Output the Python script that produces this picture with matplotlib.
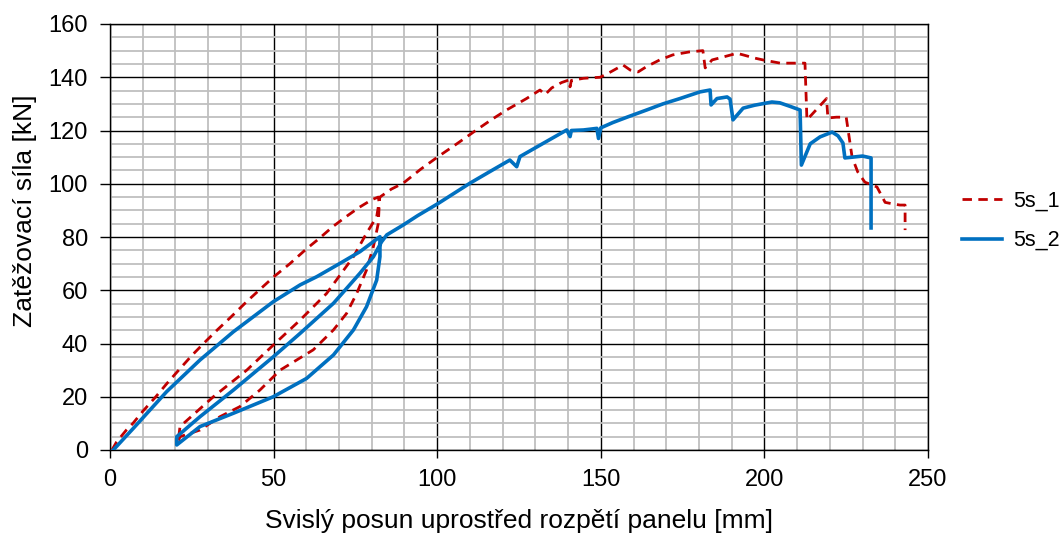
import matplotlib
matplotlib.use("Agg")
import matplotlib.pyplot as plt
from matplotlib.ticker import MultipleLocator

plt.rcParams['font.family'] = ['Liberation Sans', 'DejaVu Sans']

# 5s_1 : loading, unloading, reloading, then envelope to failure
s1_x = [0.6, 2, 5, 7, 10, 14, 17.4, 21, 25, 29, 32.7, 37, 42, 46, 50, 55, 60, 64, 68, 72, 76, 80, 82,
        82.3, 82, 80.5, 78.4, 75.4, 72.3, 68.3, 62.1, 52, 45.8, 39.7, 33.6, 27.5, 21.4, 20.8,
        21.4, 31.6, 41.8, 49.9, 58.1, 66.2, 74.4, 78.4, 81.5, 82.5,
        86, 89.6, 95, 100.3, 106, 112, 116.5, 121.2, 127.3, 131.4, 133, 135, 138, 140.3, 140.6, 141,
        144.7, 149.8, 153, 156.8, 159, 161.4, 164, 168, 172, 177, 181.2, 181.9, 184, 187.4, 191.6,
        193.5, 197, 199.6, 204.8, 212.4, 213, 216, 219, 219.4, 222, 225, 226.8, 228.5, 230.7,
        234.4, 236.9, 239, 241.4, 243, 243]
s1_y = [0, 3, 7.5, 10, 14.5, 20, 25, 30, 35.5, 40.5, 45, 50, 56, 60.5, 65, 70, 75.5, 79.5, 83.8, 87.5, 91, 94, 95,
        92.6, 85.1, 76.4, 67.6, 58.8, 51.3, 45.1, 37.6, 30, 22.5, 16.3, 12.5, 7.5, 5, 3,
        8.8, 20, 30, 39.4, 48.8, 58.8, 72.6, 81.4, 87.6, 95,
        98, 100.2, 105.5, 110.2, 115, 120.2, 124, 127.7, 132, 135.2, 133.5, 136, 138, 139, 136.4, 138.8,
        139.6, 140, 142, 144.6, 142.7, 142, 144, 146.5, 148.4, 149.5, 150, 143.5, 146.5, 147.6, 149,
        148.4, 147.2, 146.5, 145.3, 145.3, 124, 128, 132, 124.7, 125, 125, 110, 104.5, 100.6,
        98.8, 93, 92.5, 92, 92, 82.6]

# 5s_2
s2_x = [1, 7.1, 17.3, 27.5, 37.7, 49.9, 58.1, 63.2, 70.3, 76.4, 82.5,
        82.5, 81.5, 78.4, 74.4, 68.3, 60.1, 49.9, 37.7, 27.5, 20.4,
        20.4, 27.5, 37.7, 49.9, 58.1, 68.3, 76.4, 80.5, 83, 84.6,
        89.6, 94, 100.3, 110, 116, 122.2, 124.3, 125.3, 130, 135, 139.6, 140.6, 141, 144.7,
        148.8, 149.3, 150, 153.7, 158, 164, 169, 174.2, 180.3, 183.4, 183.7, 185.5, 188.6, 189.5,
        190.4, 193.5, 197, 202.3, 204.7, 208, 210.9, 211.3, 214, 217, 220.7, 222.5, 224, 224.6,
        227, 230, 232.6, 232.6]
s2_y = [0, 8.1, 21.9, 33.8, 44.4, 55.7, 62, 65.1, 70.1, 74.5, 80.1,
        72.6, 63.8, 53.8, 45.1, 35.7, 26.9, 20, 13.8, 8.8, 1.9,
        5, 12.5, 22.5, 35, 43.8, 55.1, 66.4, 72.6, 78.2, 80.8,
        84.5, 88, 92.6, 100.2, 104.5, 108.9, 106.4, 110.2, 113.5, 117, 120.2, 117.7, 120, 120.2,
        120.8, 117, 121, 123, 125, 127.7, 130, 132, 134.5, 135.2, 129.6, 132, 132.6, 131.8,
        124, 128.4, 129.5, 130.7, 130.4, 129, 127.7, 107, 115, 117.6, 119.4, 118, 115.3, 109.7,
        110, 110.4, 109.7, 83.4]

fig = plt.figure(figsize=(10.63, 5.35), dpi=100)
ax = fig.add_axes([110 / 1063, 1 - 450 / 535, 818 / 1063, 426 / 535])

ax.plot(s1_x, s1_y, color='#C00000', lw=2.0, dashes=(3.4, 2.3), label='5s_1', zorder=3)
ax.plot(s2_x, s2_y, color='#0070C0', lw=2.6, label='5s_2', zorder=4)

ax.set_xlim(0, 250)
ax.set_ylim(0, 160)
ax.xaxis.set_major_locator(MultipleLocator(50))
ax.xaxis.set_minor_locator(MultipleLocator(10))
ax.yaxis.set_major_locator(MultipleLocator(20))
ax.yaxis.set_minor_locator(MultipleLocator(5))
ax.grid(which='minor', color='#BFBFBF', lw=1.3, zorder=0)
ax.grid(which='major', color='black', lw=1.0, zorder=1)
ax.set_axisbelow(True)
ax.tick_params(axis='x', which='major', direction='out', length=6, width=1, pad=8, labelsize=17)
ax.tick_params(axis='y', which='major', direction='out', length=7, width=1, pad=9, labelsize=17)
ax.tick_params(which='minor', length=0)
for sp in ax.spines.values():
    sp.set_color('black')
    sp.set_linewidth(1.0)

ax.set_xlabel('Svislý posun uprostřed rozpětí panelu [mm]', fontsize=19, va='center')
ax.set_ylabel('Zatěžovací síla [kN]', fontsize=19, va='center')
ax.xaxis.set_label_coords(0.5, (450 - 521) / 426)
ax.yaxis.set_label_coords((25 - 110) / 818, (450 - 211) / 426)

fig.legend(loc='center left', bbox_to_anchor=(962 / 1063, 1 - 221 / 535), frameon=False,
           fontsize=15.5, handlelength=1.85, labelspacing=0.85,
           borderpad=0, borderaxespad=0, handletextpad=0.55)

fig.savefig('out.png', dpi=100)
